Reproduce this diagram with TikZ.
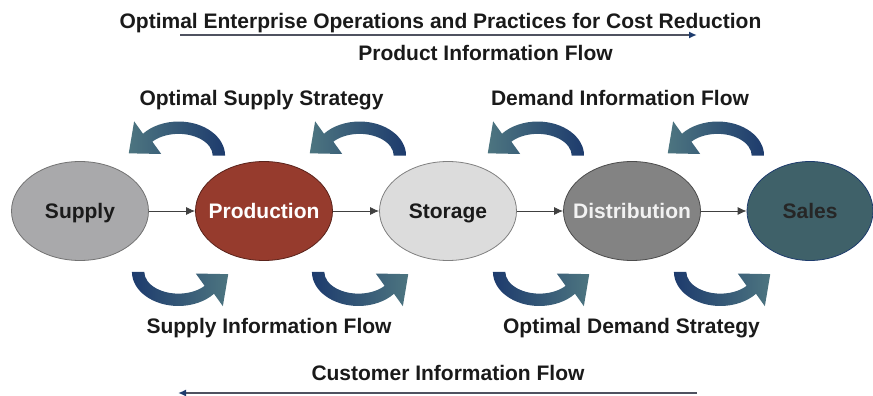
\documentclass[tikz,border=0pt]{standalone}
\usepackage{fontspec}
\setmainfont{Liberation Sans}
\usetikzlibrary{positioning,arrows.meta,shapes.geometric}

\definecolor{supplygray}{HTML}{A9A9AB}
\definecolor{prodred}{HTML}{963B2D}
\definecolor{storegray}{HTML}{DCDCDC}
\definecolor{distgray}{HTML}{838383}
\definecolor{salesteal}{HTML}{3F6169}
\definecolor{swoopnavy}{HTML}{1D3B6D}
\definecolor{swoopteal}{HTML}{4D7580}
\definecolor{flowline}{HTML}{4F5260}
\definecolor{ink}{HTML}{1A1A1A}

\newcommand{\lblfont}{\fontsize{21}{25}\selectfont\bfseries}

\tikzset{
  lbl/.style={font=\lblfont, text=ink, inner sep=0pt, anchor=base},
  stagelbl/.style={lbl, text height=15pt, text depth=5pt, yshift=-2.5pt},
  stage/.style={ellipse, line width=0.8pt, minimum width=137pt, minimum height=99pt, inner sep=0pt},
  flow/.style={draw=flowline, line width=1.6pt},
  swoop path/.style={insert path={(46.5,14) arc[start angle=0,end angle=-140,x radius=41.5,y radius=30.5]
      -- (-34.7,-16.7) -- (-39.5,11.9) -- (-10.5,12.5) -- (-18.4,1.5)
      arc[start angle=-140,end angle=0,x radius=30.5,y radius=19.5] -- cycle}},
  topswoop/.pic={\shade[scale=1.12,left color=swoopteal,right color=swoopnavy,swoop path];},
  lowswoop/.pic={\shade[scale=1.12,rotate=180,left color=swoopnavy,right color=swoopteal,swoop path];}
}

\begin{document}
\begin{tikzpicture}[x=1pt,y=-1pt,>={Latex[length=9pt,width=8pt]}]
	\useasboundingbox (0,0) rectangle (873,396);

	% headings
	\node[lbl] (title) at (440.5,29) {Optimal Enterprise Operations and Practices for Cost Reduction};
	\node[lbl] (prodflow) at (485.5,61) {Product Information Flow};
	\node[lbl] (supstrat) at (261.5,105) {Optimal Supply Strategy};
	\node[lbl] (deminfo) at (620,105) {Demand Information Flow};
	\node[lbl] (supinfo) at (269,333) {Supply Information Flow};
	\node[lbl] (demstrat) at (631.5,333) {Optimal Demand Strategy};
	\node[lbl] (custflow) at (448,380) {Customer Information Flow};

	% chain
	\node[stage, draw=gray!110, fill=supplygray,
		  label={[stagelbl]center:Supply}]
		  (sup) at (80,211) {};
	\node[stage, draw=prodred!60!black, fill=prodred,
		  label={[stagelbl,text=white]center:Production}]
		  (prod) at (264,211) {};
	\node[stage, draw=gray, fill=storegray,
		  label={[stagelbl]center:Storage}]
		  (store) at (448,211) {};
	\node[stage, draw=black!70, fill=distgray,
		  label={[stagelbl,text=black!5]center:Distribution}]
		  (dist) at (632,211) {};
	\node[stage, draw=swoopnavy, fill=salesteal, minimum width=126pt,
		  label={[stagelbl,text=black!85]center:Sales}]
		  (sales) at (810,211) {};

	\draw[->, draw=black!75, line width=0.8pt] (sup) -- (prod);
	\draw[->, draw=black!75, line width=0.8pt] (prod) -- (store);
	\draw[->, draw=black!75, line width=0.8pt] (store) -- (dist);
	\draw[->, draw=black!75, line width=0.8pt] (dist) -- (sales);

	% long flows
	\coordinate (pfs) at (180,35);
	\coordinate (pfe) at (697,35);
	\coordinate (cfs) at (697,393);
	\coordinate (cfe) at (178,393);
	\draw[flow, -{Latex[length=8pt,width=7pt,color=swoopnavy]}] (pfs) -- (pfe);
	\draw[flow, -{Latex[length=8pt,width=7pt,color=swoopnavy]}] (cfs) -- (cfe);

	% swoops
	\foreach \sx in {173,354,532,712}
		\pic at (\sx,140) {topswoop};
	\foreach \sx in {184,364,545,726}
		\pic at (\sx,287.5) {lowswoop};
\end{tikzpicture}
\end{document}
